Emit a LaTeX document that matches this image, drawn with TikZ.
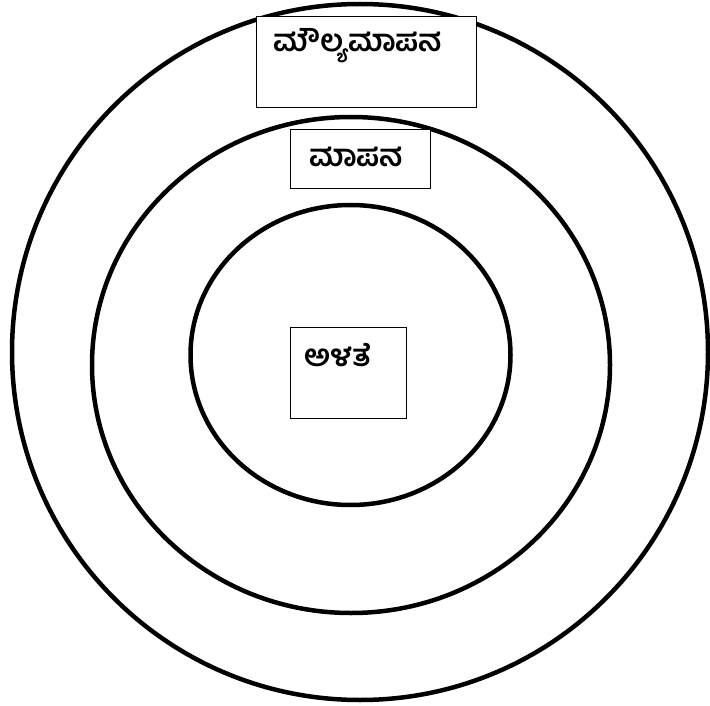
\documentclass[tikz,border=0pt]{standalone}
\usepackage{fontspec}
\newfontfamily\kannada[Script=Kannada]{Hind Mysuru}
\begin{document}
\begin{tikzpicture}[x=1pt,y=-1pt,
  ring/.style={draw=black,line width=4.5pt},
  labelbox/.style={draw=black,line width=1pt,fill=white,inner sep=0pt},
  kn/.style={font=\kannada\bfseries\fontsize{30.5}{34}\selectfont,inner sep=0pt}]
\useasboundingbox (0,0) rectangle (710,706);
\fill[white] (0,0) rectangle (710,706);
\draw[ring] (360,352) ellipse [x radius=348, y radius=348];
\draw[ring] (351,365) ellipse [x radius=259, y radius=248];
\draw[ring] (350.5,355) ellipse [x radius=160, y radius=150];
\node[labelbox,minimum width=220pt,minimum height=91pt] (b1) at (366,62.5) {};
\node[labelbox,minimum width=140pt,minimum height=59pt] (b2) at (360,159.5) {};
\node[labelbox,minimum width=116pt,minimum height=91pt] (b3) at (348,372.5) {};
\node[kn] (t1) at (358,46) {ಮೌಲ್ಯಮಾಪನ};
\node[kn] (t2) at (356,157) {ಮಾಪನ};
\node[kn] (t3) at (338,355) {ಅಳತೆ};
\end{tikzpicture}
\end{document}
